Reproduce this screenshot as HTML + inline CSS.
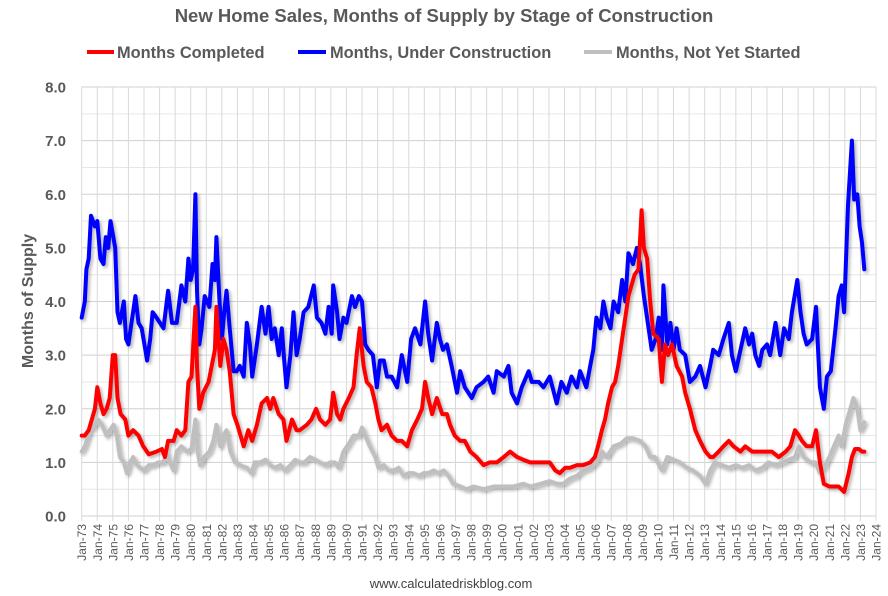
<!DOCTYPE html>
<html><head><meta charset="utf-8"><style>
html,body{margin:0;padding:0;background:#fff;}
svg{display:block;font-family:"Liberation Sans",sans-serif;}
</style></head><body>
<svg id="chart" width="888" height="596" viewBox="0 0 888 596">
<defs><filter id="sh" x="-5%" y="-5%" width="110%" height="110%"><feDropShadow dx="2" dy="2" stdDeviation="1.5" flood-color="#000" flood-opacity="0.3"/></filter></defs>
<text x="444" y="22" text-anchor="middle" font-size="18.5" font-weight="bold" fill="#595959">New Home Sales, Months of Supply by Stage of Construction</text>
<g>
<g><line x1="87" y1="52" x2="114" y2="52" stroke="#f00" stroke-width="4"/><text x="117" y="58" font-size="16.4" font-weight="bold" fill="#595959">Months Completed</text></g>
<g><line x1="298" y1="52" x2="326" y2="52" stroke="#00f" stroke-width="4"/><text x="330" y="58" font-size="16.4" font-weight="bold" fill="#595959">Months, Under Construction</text></g>
<g><line x1="584" y1="52" x2="612" y2="52" stroke="#bfbfbf" stroke-width="4"/><text x="616" y="58" font-size="16.4" font-weight="bold" fill="#595959">Months, Not Yet Started</text></g>
</g>
<g id="grid"></g>
<g id="yaxis"></g>
<g id="xaxis"></g>
<text transform="translate(33,301) rotate(-90)" text-anchor="middle" font-size="16" font-weight="bold" fill="#595959">Months of Supply</text>
<g id="series" filter="url(#sh)"></g>
<text x="451" y="588" text-anchor="middle" font-size="13" fill="#404040">www.calculatedriskblog.com</text>
</svg>
<script>
const yTicks=[0,1,2,3,4,5,6,7,8];
const xTickYears=[];for(let y=1973;y<=2024;y++)xTickYears.push(y);
const blueX=[1973.0,1973.2,1973.3,1973.45,1973.6,1973.85,1974.0,1974.2,1974.4,1974.55,1974.7,1974.85,1975.15,1975.3,1975.45,1975.7,1975.85,1976.0,1976.2,1976.45,1976.65,1976.85,1977.2,1977.4,1977.55,1977.8,1978.25,1978.55,1978.8,1979.1,1979.4,1979.65,1979.85,1980.0,1980.15,1980.3,1980.4,1980.55,1980.7,1980.9,1981.2,1981.4,1981.55,1981.65,1981.85,1982.0,1982.15,1982.3,1982.5,1982.75,1982.95,1983.15,1983.4,1983.6,1983.8,1983.95,1984.25,1984.55,1984.8,1985.0,1985.2,1985.4,1985.65,1985.85,1986.0,1986.15,1986.4,1986.6,1986.8,1987.0,1987.25,1987.55,1987.9,1988.1,1988.4,1988.65,1988.85,1989.05,1989.15,1989.4,1989.55,1989.8,1990.0,1990.35,1990.55,1990.8,1991.0,1991.2,1991.4,1991.7,1991.95,1992.15,1992.4,1992.6,1992.9,1993.25,1993.55,1993.9,1994.15,1994.4,1994.75,1995.05,1995.25,1995.5,1995.8,1996.0,1996.2,1996.45,1996.75,1997.1,1997.3,1997.6,1998.05,1998.35,1998.8,1999.1,1999.45,1999.65,2000.1,2000.4,2000.6,2000.95,2001.25,2001.7,2001.9,2002.35,2002.65,2003.05,2003.5,2003.8,2004.15,2004.45,2004.8,2005.0,2005.4,2005.65,2005.85,2006.05,2006.3,2006.5,2006.7,2006.95,2007.15,2007.45,2007.7,2007.9,2008.1,2008.4,2008.65,2008.85,2009.1,2009.4,2009.6,2009.85,2010.05,2010.25,2010.35,2010.6,2010.8,2011.0,2011.2,2011.4,2011.75,2012.05,2012.4,2012.7,2013.05,2013.35,2013.55,2013.9,2014.2,2014.55,2014.75,2015.0,2015.3,2015.6,2015.85,2016.05,2016.25,2016.5,2016.7,2017.0,2017.2,2017.55,2017.85,2018.1,2018.4,2018.6,2018.95,2019.15,2019.35,2019.55,2019.9,2020.15,2020.4,2020.65,2020.85,2021.1,2021.4,2021.6,2021.8,2021.95,2022.2,2022.45,2022.6,2022.8,2022.95,2023.1,2023.25];
const blueV=[3.7,4.0,4.6,4.8,5.6,5.4,5.5,4.8,4.7,5.2,5.0,5.5,5.0,3.8,3.6,4.0,3.3,3.2,3.6,4.1,3.6,3.5,2.9,3.3,3.8,3.7,3.5,4.2,3.6,3.6,4.3,4.0,4.8,4.4,4.6,6.0,4.2,3.2,3.5,4.1,3.9,4.7,4.4,5.2,4.0,3.3,3.8,4.2,3.5,2.7,2.7,2.8,2.6,3.6,3.2,2.6,3.2,3.9,3.4,3.9,3.3,3.5,3.0,3.5,2.9,2.4,3.0,3.8,3.0,3.3,3.8,3.9,4.3,3.7,3.6,3.4,3.9,3.4,4.3,3.8,3.3,3.7,3.6,4.1,3.9,4.1,4.0,3.2,3.1,3.0,2.4,2.9,2.9,2.6,2.6,2.4,3.0,2.5,3.3,3.5,3.2,4.0,3.4,2.9,3.6,3.3,3.1,3.2,2.8,2.3,2.7,2.4,2.2,2.4,2.5,2.6,2.3,2.7,2.6,2.8,2.3,2.1,2.4,2.7,2.5,2.5,2.4,2.6,2.1,2.5,2.3,2.6,2.4,2.7,2.4,2.8,3.1,3.7,3.5,4.0,3.7,3.5,4.0,3.8,4.4,4.0,4.9,4.7,5.0,4.7,4.1,3.5,3.1,3.3,3.7,3.1,4.3,3.2,3.6,3.1,3.5,3.1,3.0,2.5,2.6,2.8,2.4,2.8,3.1,3.0,3.3,3.6,3.0,2.7,3.1,3.5,3.2,3.4,3.0,2.8,3.1,3.2,3.0,3.6,3.0,3.5,3.3,3.8,4.4,3.8,3.4,3.2,3.3,3.9,2.4,2.0,2.6,2.7,3.5,4.1,4.3,3.8,5.8,7.0,5.9,6.0,5.4,5.1,4.6];
const redX=[1973.0,1973.2,1973.45,1973.65,1973.85,1974.0,1974.2,1974.4,1974.6,1974.8,1975.0,1975.15,1975.3,1975.5,1975.8,1976.0,1976.3,1976.65,1976.95,1977.3,1977.8,1978.15,1978.35,1978.55,1978.9,1979.1,1979.4,1979.65,1979.85,1980.05,1980.3,1980.4,1980.55,1980.8,1981.15,1981.35,1981.55,1981.65,1981.9,1982.1,1982.3,1982.5,1982.75,1983.0,1983.4,1983.7,1983.95,1984.25,1984.55,1984.9,1985.1,1985.3,1985.65,1985.95,1986.15,1986.5,1986.8,1987.0,1987.45,1987.75,1988.05,1988.3,1988.65,1988.95,1989.15,1989.4,1989.6,1989.8,1990.15,1990.45,1990.65,1990.85,1991.1,1991.3,1991.6,1991.85,1992.05,1992.25,1992.6,1992.9,1993.25,1993.55,1993.9,1994.2,1994.55,1994.85,1995.05,1995.25,1995.5,1995.8,1996.15,1996.45,1996.65,1996.95,1997.3,1997.6,1997.95,1998.35,1998.8,1999.2,1999.65,2000.1,2000.5,2000.95,2001.35,2001.8,2002.2,2002.65,2003.05,2003.4,2003.7,2004.05,2004.35,2004.8,2005.2,2005.65,2005.95,2006.15,2006.4,2006.6,2006.8,2007.05,2007.25,2007.45,2007.7,2007.9,2008.1,2008.3,2008.5,2008.75,2008.95,2009.1,2009.3,2009.5,2009.7,2010.05,2010.25,2010.45,2010.65,2010.9,2011.2,2011.55,2011.75,2012.05,2012.4,2012.7,2013.05,2013.35,2013.55,2013.9,2014.2,2014.55,2014.85,2015.3,2015.6,2016.05,2016.5,2016.9,2017.3,2017.75,2018.2,2018.5,2018.8,2019.05,2019.25,2019.55,2019.9,2020.15,2020.4,2020.65,2021.0,2021.3,2021.6,2021.95,2022.25,2022.45,2022.65,2022.9,2023.1,2023.25];
const redV=[1.5,1.5,1.6,1.8,2.0,2.4,2.1,1.9,2.0,2.2,3.0,3.0,2.2,1.9,1.8,1.5,1.6,1.5,1.3,1.15,1.2,1.25,1.1,1.4,1.4,1.6,1.5,1.6,2.5,2.6,3.9,2.8,2.0,2.3,2.5,2.8,3.1,3.9,2.8,3.3,3.1,2.7,1.9,1.7,1.3,1.6,1.4,1.7,2.1,2.2,2.0,2.2,1.9,1.8,1.4,1.8,1.6,1.6,1.7,1.8,2.0,1.8,1.7,1.8,2.3,1.9,1.8,2.0,2.2,2.4,3.0,3.5,2.8,2.5,2.4,2.1,1.8,1.6,1.7,1.5,1.4,1.4,1.3,1.6,1.8,2.0,2.5,2.2,1.9,2.2,1.9,1.9,1.7,1.5,1.4,1.4,1.2,1.1,0.95,1.0,1.0,1.1,1.2,1.1,1.05,1.0,1.0,1.0,1.0,0.85,0.8,0.9,0.9,0.95,0.95,1.0,1.1,1.3,1.6,1.8,2.1,2.4,2.5,2.8,3.3,3.7,4.1,4.3,4.5,4.6,5.7,5.0,4.8,4.0,3.4,3.3,2.5,3.2,3.0,3.2,2.8,2.6,2.3,2.0,1.6,1.4,1.2,1.1,1.1,1.2,1.3,1.4,1.3,1.2,1.3,1.2,1.2,1.2,1.2,1.1,1.2,1.3,1.6,1.5,1.4,1.3,1.3,1.6,1.0,0.6,0.55,0.55,0.55,0.45,0.8,1.1,1.25,1.25,1.2,1.2];
const grayX=[1973.0,1973.2,1973.55,1973.85,1974.05,1974.3,1974.6,1974.8,1975.05,1975.25,1975.45,1975.7,1975.9,1976.1,1976.3,1976.55,1976.75,1977.0,1977.3,1977.6,1977.9,1978.25,1978.45,1978.65,1978.9,1979.1,1979.4,1979.75,1980.05,1980.3,1980.45,1980.6,1980.85,1981.2,1981.45,1981.65,1981.9,1982.1,1982.3,1982.55,1982.85,1983.15,1983.6,1983.9,1984.1,1984.45,1984.8,1985.1,1985.4,1985.75,1986.05,1986.4,1986.7,1987.0,1987.3,1987.65,1988.0,1988.3,1988.65,1988.95,1989.25,1989.5,1989.8,1990.15,1990.45,1990.8,1991.0,1991.2,1991.5,1991.85,1992.05,1992.4,1992.7,1993.05,1993.35,1993.65,1994.0,1994.3,1994.65,1994.95,1995.25,1995.6,1995.9,1996.25,1996.55,1996.85,1997.3,1997.7,1998.15,1998.8,1999.45,2000.1,2000.7,2001.35,2001.8,2002.45,2003.05,2003.5,2003.9,2004.35,2004.8,2005.2,2005.65,2006.05,2006.4,2006.7,2007.15,2007.6,2008.0,2008.4,2008.85,2009.2,2009.5,2009.8,2010.25,2010.6,2011.0,2011.4,2011.85,2012.25,2012.7,2013.05,2013.35,2013.65,2014.1,2014.55,2015.0,2015.4,2015.85,2016.25,2016.7,2017.1,2017.55,2018.0,2018.4,2018.8,2019.05,2019.35,2019.8,2020.1,2020.4,2020.65,2021.0,2021.3,2021.6,2021.8,2022.05,2022.35,2022.55,2022.8,2023.0,2023.25];
const grayV=[1.2,1.3,1.6,1.7,1.8,1.7,1.5,1.6,1.7,1.5,1.1,1.0,0.8,1.0,1.1,0.95,0.9,0.85,0.95,0.95,1.0,1.0,1.2,1.0,0.85,1.2,1.3,1.2,1.25,1.8,1.2,0.95,1.1,1.2,1.4,1.7,1.3,1.5,1.6,1.2,1.0,0.95,0.9,0.8,1.0,1.0,1.05,0.95,0.9,0.95,0.85,0.95,1.05,1.0,1.0,1.1,1.05,1.0,0.95,1.0,1.0,0.9,1.2,1.35,1.5,1.5,1.65,1.5,1.3,1.1,0.9,0.95,0.85,0.85,0.9,0.75,0.8,0.8,0.75,0.8,0.8,0.85,0.8,0.85,0.75,0.6,0.55,0.5,0.55,0.5,0.55,0.55,0.55,0.6,0.55,0.6,0.65,0.6,0.6,0.7,0.75,0.85,0.9,1.0,1.2,1.1,1.3,1.35,1.45,1.45,1.4,1.3,1.1,1.1,0.85,1.1,1.05,1.0,0.9,0.85,0.75,0.6,0.85,1.0,0.95,0.9,0.95,0.9,0.95,0.85,0.9,1.0,0.95,1.0,1.05,1.1,1.3,1.1,1.0,1.0,0.8,0.9,1.1,1.3,1.5,1.3,1.7,2.0,2.2,2.0,1.6,1.75];

const NS='http://www.w3.org/2000/svg';
const L=81.7,R=876,T=87,B=516,Y0=1973,Y1=2024;
function xS(y){return L+(y-Y0)*(R-L)/(Y1-Y0);}
function yS(v){return B-v*(B-T)/8;}
function mk(tag,attrs,parent){const e=document.createElementNS(NS,tag);for(const k in attrs)e.setAttribute(k,attrs[k]);parent.appendChild(e);return e;}
const grid=document.getElementById('grid'),ya=document.getElementById('yaxis'),xa=document.getElementById('xaxis'),ser=document.getElementById('series');
for(let v=0;v<=8;v+=0.5){
  const g=mk('line',{x1:L,x2:R,y1:yS(v),y2:yS(v),stroke:(v%1===0)?'#d0d0d0':'#e6e6e6','stroke-width':1},grid);
  
  
}
xTickYears.forEach(y=>{
  const g=mk('line',{x1:xS(y),x2:xS(y),y1:T,y2:B+5,stroke:'#d9d9d9','stroke-width':1},grid);
  
  
  const t=mk('text',{transform:`translate(${xS(y)+4.5},${B+8}) rotate(-90)`,'text-anchor':'end','font-size':12,fill:'#595959'},xa);
  t.textContent='Jan-'+String(y%100).padStart(2,'0');
  
  
});
yTicks.forEach(v=>{
  const t=mk('text',{x:66,y:yS(v)+5.5,'text-anchor':'end','font-size':15,'font-weight':'bold',fill:'#595959'},ya);
  t.textContent=v.toFixed(1);
  
  
});
function line(xs,vs,color,name){
  const d=xs.map((x,i)=>(i?'L':'M')+xS(x).toFixed(1)+','+yS(vs[i]).toFixed(1)).join('');
  const p=mk('path',{d:d,fill:'none',stroke:color,'stroke-width':4,'stroke-linejoin':'round','stroke-linecap':'round'},ser);
  
  
}
line(grayX,grayV,'#bfbfbf','line-not-yet-started');
line(blueX,blueV,'#0000ff','line-under-construction');
line(redX,redV,'#ff0000','line-completed');
</script>
</body></html>
